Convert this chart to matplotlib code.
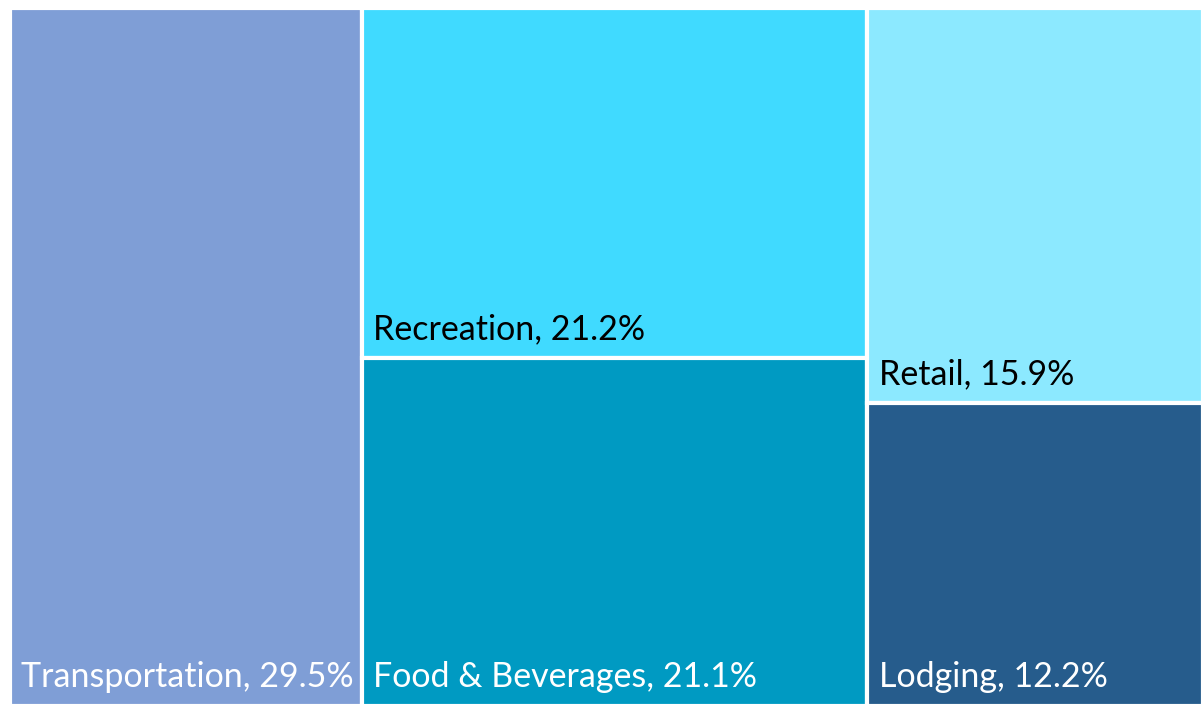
import matplotlib.pyplot as plt
from matplotlib.patches import Rectangle

labels = ["Transportation", "Recreation", "Food & Beverages", "Retail", "Lodging"]
shares = [29.5, 21.2, 21.1, 15.9, 12.2]
colors = ["#7F9ED6", "#40DAFF", "#009AC2", "#8CE9FF", "#265C8C"]
text_colors = ["white", "black", "white", "black", "white"]
# tiles stacked in columns: top to bottom
columns = [[0], [1, 2], [3, 4]]

plt.rcParams['font.family'] = ['Lato', 'DejaVu Sans']

fig = plt.figure(figsize=(12.03, 7.06), dpi=100)
ax = fig.add_axes([10 / 1203, 0, 1193 / 1203, 698 / 706])
total = sum(shares)

x0 = 0
for col in columns:
    col_sum = sum(shares[i] for i in col)
    w = col_sum / total * 100
    y_top = 100
    for i in col:
        h = shares[i] / col_sum * 100
        y0 = y_top - h
        ax.add_patch(Rectangle((x0, y0), w, h, facecolor=colors[i],
                               edgecolor="white", linewidth=3))
        ax.annotate(f"{labels[i]}, {shares[i]}%", (x0, y0),
                    xytext=(8, 13.5), textcoords="offset points",
                    ha="left", va="baseline", fontsize=24.5,
                    color=text_colors[i])
        y_top = y0
    x0 += w

ax.set_xlim(0, 100)
ax.set_ylim(0, 100)
ax.axis("off")

fig.savefig("out.png", dpi=100)
